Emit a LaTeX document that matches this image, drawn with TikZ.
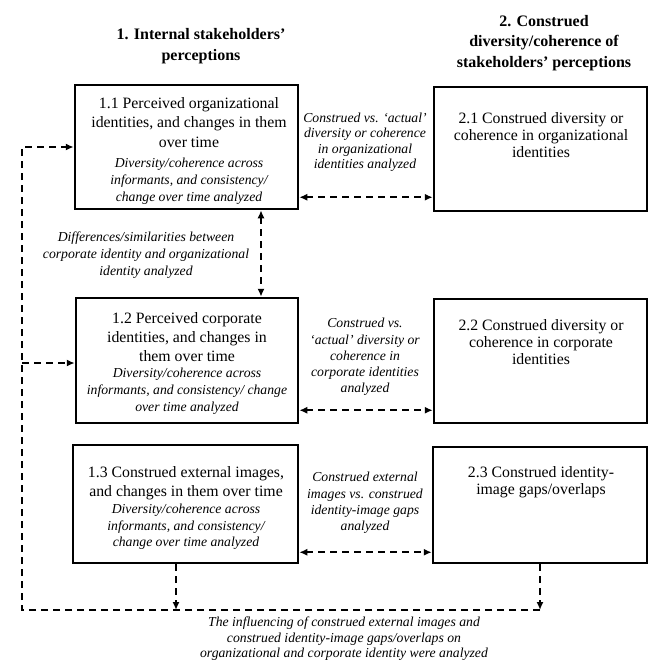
\documentclass[tikz,border=0pt]{standalone}
\usepackage{fontspec}
\setmainfont{Liberation Serif}
\usetikzlibrary{arrows.meta}

\begin{document}
\begin{tikzpicture}[x=1pt, y=-1pt,
	box/.style={draw, line width=2.5pt, inner sep=0pt},
	head/.style={font=\bfseries\fontsize{16}{21}\selectfont, align=center, inner sep=0pt, anchor=north},
	title/.style={font=\fontsize{15.8}{19.5}\selectfont, align=center, inner sep=0pt, anchor=north},
	note/.style={font=\itshape\fontsize{13.7}{16.8}\selectfont, align=center, inner sep=0pt, anchor=north},
	link/.style={line width=1.8pt, dash pattern=on 7pt off 5pt},
	tip/.style={-{Latex[length=8pt,width=7pt]}},
	tips/.style={{Latex[length=8pt,width=7pt]}-{Latex[length=8pt,width=7pt]}}]
		\useasboundingbox (0,0) rectangle (649,662);
		
		%column heads
		\node[head] (h1) at (201, 28.5){1. Internal stakeholders'\\perceptions};
		\node[head, font=\bfseries\fontsize{16}{20.5}\selectfont] (h2) at (544, 15){2. Construed\\diversity/coherence of\\stakeholders' perceptions};
		
		%boxes
		\node[box, minimum width=223pt, minimum height=124pt] (b11) at (186.5, 147){};
		\node[box, minimum width=213pt, minimum height=124pt] (b21) at (540.5, 149){};
		\node[box, minimum width=222pt, minimum height=125pt] (b12) at (187, 360.5){};
		\node[box, minimum width=213pt, minimum height=124pt] (b22) at (540.5, 361){};
		\node[box, minimum width=225pt, minimum height=118pt] (b13) at (185.5, 504){};
		\node[box, minimum width=214pt, minimum height=116pt] (b23) at (540, 505){};
		
		%box texts
		\node[title] (t11) at (189, 97.3){1.1 Perceived organizational\\identities, and changes in them\\over time};
		\node[note] (n11) at (189, 158){Diversity/coherence across\\informants, and consistency/\\change over time analyzed};
		\node[title, font=\fontsize{15.8}{17}\selectfont] (t21) at (541, 112.3){2.1 Construed diversity or\\coherence in organizational\\identities};
		\node[title, font=\fontsize{15.8}{19}\selectfont] (t12) at (187, 312.3){1.2 Perceived corporate\\identities, and changes in\\them over time};
		\node[note] (n12) at (187, 368){Diversity/coherence across\\informants, and consistency/ change\\over time analyzed};
		\node[title, font=\fontsize{15.8}{17}\selectfont] (t22) at (541, 319.3){2.2 Construed diversity or\\coherence in corporate\\identities};
		\node[title, font=\fontsize{15.8}{19}\selectfont] (t13) at (186, 466.3){1.3 Construed external images,\\and changes in them over time};
		\node[note, font=\itshape\fontsize{13.7}{16.5}\selectfont] (n13) at (186, 504){Diversity/coherence across\\informants, and consistency/\\change over time analyzed};
		\node[title, font=\fontsize{15.8}{16.7}\selectfont] (t23) at (541, 466.3){2.3 Construed identity-\\image gaps/overlaps};
		
		%labels
		\node[note, font=\itshape\fontsize{13.7}{15.2}\selectfont] (l1) at (365, 113){Construed vs. `actual'\\diversity or coherence\\in organizational\\identities analyzed};
		\node[note, font=\itshape\fontsize{13.7}{16.3}\selectfont] (l2) at (365, 318){Construed vs.\\`actual' diversity or\\coherence in\\corporate identities\\analyzed};
		\node[note, font=\itshape\fontsize{13.7}{16.3}\selectfont] (l3) at (365, 472){Construed external\\images vs. construed\\identity-image gaps\\analyzed};
		\node[note] (ld) at (146, 232){Differences/similarities between\\corporate identity and organizational\\identity analyzed};
		\node[note, font=\itshape\fontsize{13.7}{15.5}\selectfont] (lb) at (344, 617){The influencing of construed external images and\\construed identity-image gaps/overlaps on\\organizational and corporate identity were analyzed};
		
		%connectors
		\draw[link, tips] ([yshift=13pt]b11.south east) -- ([yshift=15pt]b21.south west);
		\draw[link, tips] ([yshift=14pt]b12.south east) -- ([yshift=14pt]b22.south west);
		\draw[link, tips] ([yshift=12pt]b13.south east) -- ([yshift=12pt]b23.south west);
		\draw[link, tips] ([xshift=74.5pt]b11.south) -- ([xshift=74pt]b12.north);
		
		%feedback loop
		\coordinate (lp) at (22, 610);
		\coordinate (d13) at ([xshift=-9.5pt]b13.south);
		\draw[link, tip] (d13) -- (d13 |- lp);
		\draw[link, tip] (b23.south) -- (b23.south |- lp);
		\draw[link, tip] (b23.south |- lp) -- (lp) -- (lp |- b11.west) -- (b11.west);
		\draw[link, tip] (lp |- b12.west) ++(0,2.5) -- ([yshift=-2.5pt]b12.west);
		\end{tikzpicture}
\end{document}
